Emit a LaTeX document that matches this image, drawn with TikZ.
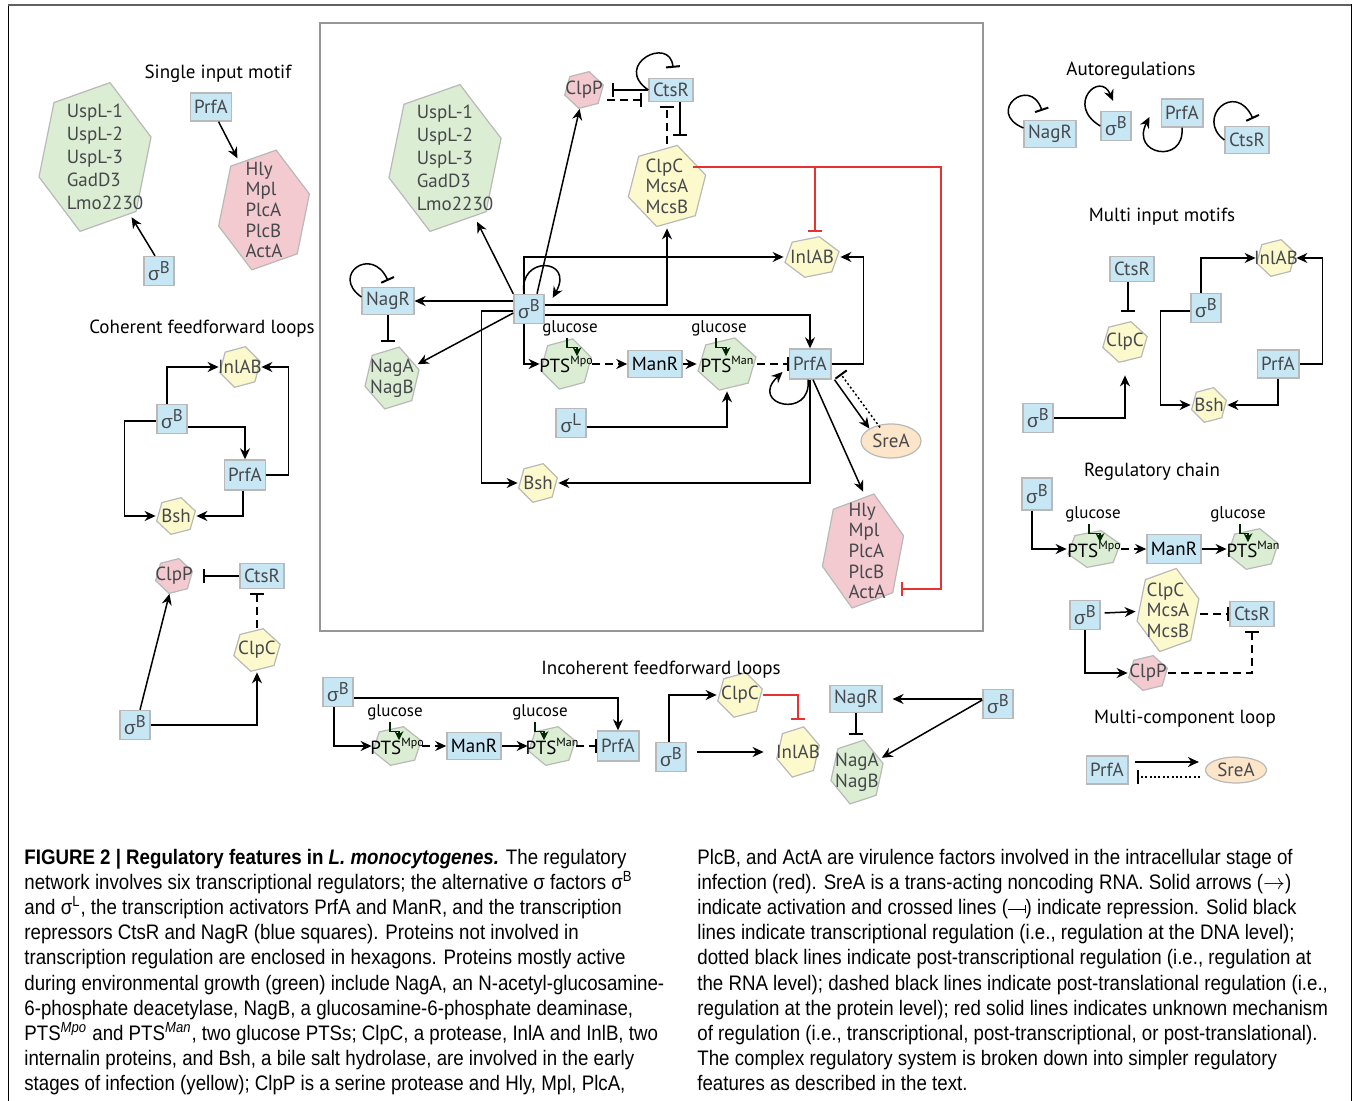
\documentclass[tikz,border=0pt]{standalone}
\usepackage{fontspec}
\setmainfont{PT Sans}
\newfontfamily\capfont[FakeStretch=0.89]{Liberation Sans}
\newfontfamily\grkfont{Liberation Sans}
\usetikzlibrary{arrows.meta,shapes.geometric,calc}

\definecolor{boxblue}{RGB}{200,231,245}
\definecolor{boxline}{RGB}{185,185,185}
\definecolor{hexgreen}{RGB}{219,237,211}
\definecolor{hexyellow}{RGB}{252,249,204}
\definecolor{hexpink}{RGB}{242,202,207}
\definecolor{rnaorange}{RGB}{252,229,200}
\definecolor{labeltext}{RGB}{70,72,76}
\definecolor{unknownred}{RGB}{232,50,50}
\definecolor{framegray}{RGB}{150,150,150}

\newcommand\lbl{\fontsize{9.5}{11.5}\selectfont}
\newcommand\lblx{\fontsize{9.5}{10.3}\selectfont}
\newcommand\sig[1]{{\grkfont σ}\raisebox{0.75ex}{\fontsize{8.5}{8.5}\selectfont #1}}
\newcommand\pts[1]{PTS\raisebox{0.85ex}{\fontsize{6}{6}\selectfont #1}}
\newcommand\actsym{$\rightarrow$}
\newcommand\repsym{\rule[0.4ex]{0.8em}{0.45pt}\rule[0.05ex]{0.45pt}{0.75ex}}

\pgfdeclarelayer{bg}
\pgfsetlayers{bg,main}

\tikzset{
  tf/.style={draw=boxline, fill=boxblue, text=labeltext, font=\lbl, line width=0.7pt,
    inner xsep=2pt, inner ysep=0pt, minimum height=13.5pt},
  sigbox/.style={minimum width=15pt, minimum height=14.5pt},
  hexa/.style={ellipse, inner sep=0pt},
  hextext/.style={font=\lbl, text=labeltext, align=left, inner sep=0pt},
  hexborder/.style={draw=boxline, line width=0.6pt},
  rna/.style={ellipse, draw=boxline, fill=rnaorange, text=labeltext, font=\lbl,
    inner sep=0pt, line width=0.6pt},
  title/.style={font=\fontsize{9.5}{11}\selectfont, text=black, inner sep=0pt, yshift=-1.5pt},
  sugar/.style={font=\fontsize{8.5}{10}\selectfont, text=black, inner sep=1pt},
  act/.style={-{Stealth[length=5.5pt,width=5pt]}, line width=0.75pt},
  rep/.style={-{Bar[width=7pt,line width=1pt]}, line width=0.75pt},
  unk/.style={rep, draw=unknownred, line width=0.7pt},
  postlat/.style={dash pattern=on 4pt off 2.5pt},
  posttx/.style={dash pattern=on 1pt off 1.2pt},
  sugararrow/.style={-{Stealth[length=4.5pt,width=4.5pt]}, line width=0.6pt, draw=black!85!green},
  captext/.style={anchor=base west, inner sep=0pt, font=\capfont\fontsize{10.5}{12.5}\selectfont},
}

% name, centre, colour, x radius, y radius, text
\newcommand\hexa[7][]{%
  \node[hexa, minimum width=#5pt, minimum height=#6pt,
    label={[hextext,#1]center:{#7}}] (#2) at (#3) {};
  \begin{pgfonlayer}{bg}
    \filldraw[hexborder, fill=#4] ($(#2.center)+({#5*cos(-15)},{#6*sin(-15)})$)
      \foreach \a in {45,105,165,225,285}{ -- ($(#2.center)+({#5*cos(\a)},{#6*sin(\a)})$)} -- cycle;
  \end{pgfonlayer}}

\begin{document}
\begin{tikzpicture}[x=0.5pt, y=-0.5pt]
\useasboundingbox (0,0) rectangle (1356,1101);
\draw[black, line width=0.5pt] (8,1101) -- (8,5) -- (1351,5) -- (1351,1101);
\draw[gray!75!black, line width=1pt] (8,5) -- (1351,5);
\draw[framegray, line width=0.9pt] (320,23) rectangle (983,631);

% whole network
\node[tf, sigbox] (sB) at (529,309) {\sig{B}};
\node[tf] (nagR) at (388,301) {NagR};
\node[tf, minimum height=11.5pt] (ctsR) at (671,90) {CtsR};
\node[tf, minimum height=15pt] (prfa) at (810,364) {PrfA};
\node[tf, text=black] (manR) at (655,364) {ManR};
\node[tf, sigbox] (sL) at (571,423) {\sig{L}};
\node[sugar] (glcA) at (570,328) {glucose};
\node[sugar] (glcB) at (719,328) {glucose};
\hexa[xshift=5pt]{uspl}{445,158}{hexgreen}{58}{76}{UspL-1\\UspL-2\\UspL-3\\GadD3\\Lmo2230}
\hexa{clpp}{584,90}{hexpink}{20}{19}{ClpP}
\hexa[font=\lblx]{clpc}{667,186}{hexyellow}{40}{42}{ClpC\\McsA\\McsB}
\hexa{inlab}{812,257}{hexyellow}{28}{21}{InlAB}
\hexa[font=\lblx]{nagab}{392,378}{hexgreen}{28}{32}{NagA\\NagB}
\hexa{ptsmpo}{566,364}{hexgreen}{26}{26}{\textcolor{black}{\pts{Mpo}}}
\hexa{ptsman}{727,364}{hexgreen}{30}{27}{\textcolor{black}{\pts{Man}}}
\hexa{bsh}{538,483}{hexyellow}{20}{20}{Bsh}
\hexa[font=\lblx, xshift=2pt]{hly}{863,551}{hexpink}{42}{59}{Hly\\Mpl\\PlcA\\PlcB\\ActA}
\node[rna, minimum width=30pt, minimum height=17pt] (srea) at (891,441) {SreA};

\draw[act] (sB.west |- nagR) -- (nagR);
\draw[rep] ([yshift=2pt]nagR.west) .. controls (330,275) and (372,245) .. ([yshift=3pt]nagR.north);
\draw[rep, shorten >=2pt] (nagR) -- (nagR |- nagab.north);
\draw[act] ([yshift=-2pt]sB.west) -- (nagab);
\draw[act] (sB.north west) -- (uspl);
\draw[act] ([xshift=4pt]sB.north) -- (clpp);
\draw[act] ([xshift=-2.5pt]sB.north) .. controls (518,255) and (575,258) .. ([xshift=4pt,yshift=-2pt]sB.north east);
\draw[act] ([xshift=-2.5pt]sB.north) |- (inlab);
\draw[act] ([yshift=2pt]sB.east) -| (clpc);
\draw[act] ([yshift=-3pt]sB.east) -| (prfa);
\draw[act] ([yshift=-1pt]sB.west) -- ++(-32,0) |- (bsh);
\draw[act] ([xshift=-2.5pt]sB.south) |- (ptsmpo);
\draw[sugararrow] ([xshift=-1.5pt]glcA.south) -- ++(0,9) -| ++(10,9);
\draw[act, postlat] (ptsmpo) -- (manR);
\draw[act] (manR) -- (ptsman);
\draw[sugararrow] ([xshift=-1.5pt]glcB.south) -- ++(0,9) -| ++(10,9);
\draw[rep, postlat] (ptsman) -- (prfa);
\draw[act] ([yshift=-2pt]sL.east) -| (ptsman);
\draw[act] ([xshift=-1pt]prfa.south) .. controls (812,420) and (748,405) .. ([xshift=-3pt,yshift=-4pt]prfa.west);
\draw[act] (prfa.south) |- (bsh);
\draw[act] (prfa.east) -- ++(32,0) |- (inlab);
\draw[act] ([xshift=1.5pt]prfa.south east) -- (srea.north west);
\draw[rep, posttx] ([xshift=-5.5pt,yshift=-2pt]srea.north) -- ([xshift=4.5pt,yshift=3pt]prfa.south east);
\draw[act] ([xshift=1.5pt]prfa.south) -- (hly.north);
\draw[rep] (ctsR.west) .. controls (612,65) and (670,35) .. ([xshift=1pt,yshift=5pt]ctsR.north);
\draw[rep] (ctsR.west) -- ([xshift=4pt]clpp.east);
\draw[rep, postlat] ([xshift=1.5pt,yshift=-5pt]clpp.east) -- ([xshift=-3pt,yshift=-5pt]ctsR.west);
\draw[rep, postlat] (clpc.north) -- ([xshift=-2pt,yshift=-2pt]ctsR.south);
\draw[rep] ([xshift=4.5pt]ctsR.south) -- ++(0,34);
\draw[unk] ([xshift=13pt,yshift=9.5pt]clpc.center) -- ++(248,0) |- ([xshift=-2pt,yshift=-19pt]hly.east);
\coordinate (redjoin) at (815,167);
\draw[unk, shorten >=2pt] (redjoin) -- (redjoin |- inlab.north);

% single input motif
\node[title] (tsim) at (218,71) {Single input motif};
\node[tf, sigbox] (sBsim) at (159,271) {\sig{B}};
\node[tf, minimum height=14pt] (prfasim) at (211,107) {PrfA};
\hexa[xshift=5pt]{uspsim}{95,157}{hexgreen}{58}{77}{UspL-1\\UspL-2\\UspL-3\\GadD3\\Lmo2230}
\hexa[font=\lblx]{hlysim}{264,210}{hexpink}{47}{62}{Hly\\Mpl\\PlcA\\PlcB\\ActA}
\draw[act] ([xshift=-2pt]sBsim.north) -- (uspsim);
\draw[act] (prfasim) -- (hlysim);

% coherent feedforward loops
\node[title] (tcoh) at (202,326) {Coherent feedforward loops};
\node[tf, sigbox] (sBcoh) at (172,419) {\sig{B}};
\node[tf, minimum height=15pt] (prfacoh) at (245,475) {PrfA};
\hexa{inlabcoh}{240,367}{hexyellow}{21}{21}{InlAB}
\hexa{bshcoh}{176,516}{hexyellow}{20}{19}{Bsh}
\draw[act] ([xshift=-2.5pt]sBcoh.north) |- (inlabcoh);
\draw[act] ([yshift=-4pt]sBcoh.east) -| (prfacoh);
\draw[act] ([yshift=-1pt]sBcoh.west) -- ++(-32,0) |- (bshcoh);
\draw[act] (prfacoh.east) -- ++(22,0) |- (inlabcoh);
\draw[act] ([xshift=-1pt]prfacoh.south) |- (bshcoh);

\hexa{clppcoh}{174,576}{hexpink}{19}{18}{ClpP}
\node[tf, minimum height=12.5pt] (ctsRcoh) at (262,576) {CtsR};
\hexa{clpccoh}{257,650}{hexyellow}{24}{22}{ClpC}
\node[tf, sigbox] (sBcohb) at (135,725) {\sig{B}};
\draw[rep] (ctsRcoh) -- ([xshift=5pt]clppcoh.east);
\draw[rep, postlat, shorten >=2pt] (clpccoh) -- (clpccoh |- ctsRcoh.south);
\draw[act] ([xshift=2.5pt]sBcohb.north) -- (clppcoh);
\draw[act] (sBcohb.east) -| (clpccoh);

% incoherent feedforward loops
\node[title] (tinc) at (661,667) {Incoherent feedforward loops};
\node[tf, sigbox] (sBinc) at (338,692) {\sig{B}};
\node[sugar] (glcinA) at (395,712) {glucose};
\node[sugar] (glcinB) at (540,712) {glucose};
\hexa{ptsmpoinc}{397,746}{hexgreen}{25}{20}{\textcolor{black}{\pts{Mpo}}}
\node[tf, text=black] (manRinc) at (474,746) {ManR};
\hexa{ptsmaninc}{552,746}{hexgreen}{24}{20}{\textcolor{black}{\pts{Man}}}
\node[tf, minimum height=15pt] (prfainc) at (618,746) {PrfA};
\draw[act] ([yshift=-3pt]sBinc.east) -| (prfainc);
\draw[act] ([xshift=-2pt]sBinc.south) |- (ptsmpoinc);
\draw[sugararrow] ([xshift=-2.5pt]glcinA.south) -- ++(0,9) -| ++(9,9);
\draw[act, postlat] (ptsmpoinc) -- (manRinc);
\draw[act] (manRinc) -- (ptsmaninc);
\draw[sugararrow] ([xshift=-2.5pt]glcinB.south) -- ++(0,9) -| ++(9,9);
\draw[rep, postlat] (ptsmaninc) -- (prfainc);

\hexa{clpcinc}{740,695}{hexyellow}{23}{23}{ClpC}
\node[tf, sigbox] (sBincb) at (671,757) {\sig{B}};
\hexa{inlabinc}{798,752}{hexyellow}{22}{26}{InlAB}
\draw[act] ([xshift=-1pt]sBincb.north) |- (clpcinc);
\draw[act, shorten >=6pt] ([xshift=5pt,yshift=2.5pt]sBincb.east) -- (inlabinc);
\draw[unk, shorten >=3pt] (clpcinc.east) -| (inlabinc.north);

\node[tf] (nagRinc) at (856,699) {NagR};
\hexa[font=\lblx]{nagabinc}{857,772}{hexgreen}{27}{33}{NagA\\NagB}
\node[tf, sigbox] (sBincc) at (998,704) {\sig{B}};
\draw[act, shorten >=5pt] (sBincc.west |- nagRinc) -- (nagRinc);
\draw[act] ([yshift=2pt]sBincc.west) -- (nagabinc);
\draw[rep, shorten >=2pt] (nagRinc) -- (nagRinc |- nagabinc.north);

% autoregulations
\node[title] (tauto) at (1131,68) {Autoregulations};
\node[tf] (nagRauto) at (1050,134) {NagR};
\node[tf, sigbox] (sBauto) at (1116,126) {\sig{B}};
\node[tf, minimum height=14pt] (prfaauto) at (1182,113) {PrfA};
\node[tf] (ctsRauto) at (1247,140) {CtsR};
\draw[rep] ([yshift=3pt]nagRauto.west) .. controls (985,112) and (1030,75) .. ([xshift=-4pt,yshift=4.5pt]nagRauto.north);
\draw[act] (sBauto.west) .. controls (1065,105) and (1100,70) .. ([xshift=-1.5pt,yshift=5pt]sBauto.north);
\draw[act] (prfaauto.south) .. controls (1185,165) and (1130,155) .. ([xshift=-5.5pt,yshift=-2pt]prfaauto.west);
\draw[rep] (ctsRauto.west) .. controls (1195,118) and (1235,80) .. ([xshift=3pt,yshift=3.5pt]ctsRauto.north);

% multi input motifs
\node[title] (tmim) at (1162,214) {Multi input motifs};
\node[tf, minimum height=12.5pt] (ctsRmim) at (1132,269) {CtsR};
\hexa{clpcmim}{1125,342}{hexyellow}{23}{21}{ClpC}
\node[tf, sigbox] (sBmim) at (1038,418) {\sig{B}};
\node[tf, sigbox] (sBmimb) at (1206,308) {\sig{B}};
\hexa{inlabmim}{1276,258}{hexyellow}{20}{19}{InlAB}
\node[tf, minimum height=14pt] (prfamim) at (1278,364) {PrfA};
\hexa{bshmim}{1209,405}{hexyellow}{18}{18}{Bsh}
\draw[rep] ([xshift=-2pt]ctsRmim.south) -- ++(0,30);
\draw[act, shorten >=6pt] (sBmim.east) -| (clpcmim);
\draw[act] ([xshift=-2.5pt]sBmimb.north) |- (inlabmim);
\draw[act] ([yshift=-1.5pt]sBmimb.west) -- ++(-30,0) |- (bshmim);
\draw[act] (prfamim.east) -- ++(23,0) |- (inlabmim);
\draw[act] (prfamim.south) |- (bshmim);

% regulatory chain
\node[title] (tch) at (1152,469) {Regulatory chain};
\node[tf, sigbox, minimum height=16pt] (sBch) at (1037,494) {\sig{B}};
\node[sugar] (glcchA) at (1093,514) {glucose};
\node[sugar] (glcchB) at (1238,514) {glucose};
\hexa{ptsmpoch}{1094,549}{hexgreen}{27}{19}{\textcolor{black}{\pts{Mpo}}}
\node[tf, text=black, minimum height=14.5pt] (manRch) at (1174,549) {ManR};
\hexa{ptsmanch}{1253,549}{hexgreen}{26}{21}{\textcolor{black}{\pts{Man}}}
\draw[act] ([xshift=-2.5pt]sBch.south) |- (ptsmpoch);
\draw[sugararrow] ([xshift=-2pt]glcchA.south) -- ++(0,9) -| ++(11,9);
\draw[act, postlat] (ptsmpoch) -- (manRch);
\draw[act] (manRch) -- (ptsmanch);
\draw[sugararrow] ([xshift=1pt]glcchB.south) -- ++(0,9) -| ++(8,9);

\hexa[font=\lblx]{clpcch}{1168,610}{hexyellow}{32}{43}{ClpC\\McsA\\McsB}
\node[tf, sigbox] (sBchb) at (1085,615) {\sig{B}};
\node[tf, minimum height=12.5pt] (ctsRch) at (1252,614) {CtsR};
\hexa{clppch}{1148,673}{hexpink}{20}{18}{ClpP}
\draw[act] ([xshift=2pt,yshift=1pt]sBchb.east) -- (clpcch);
\draw[rep, postlat] (clpcch.east |- ctsRch) -- (ctsRch);
\draw[act] (sBchb.south) |- (clppch);
\draw[rep, postlat, shorten >=2pt] (clppch.east) -| (ctsRch);

% multi-component loop
\node[title] (tmcl) at (1185,716) {Multi-component loop};
\node[tf, minimum height=14pt] (prfamcl) at (1107,770) {PrfA};
\node[rna, minimum width=30.5pt, minimum height=13pt] (sreamcl) at (1236,770) {SreA};
\draw[act, shorten <=3pt, shorten >=3pt] ([yshift=4pt]prfamcl.east) -- ([yshift=4pt]sreamcl.west);
\draw[rep, posttx, shorten <=2.5pt] ([yshift=-3.5pt]sreamcl.west) -- ([xshift=4pt,yshift=-3.5pt]prfamcl.east);

% caption
\node[captext] (capA1) at (24,864) {\textbf{FIGURE 2 | Regulatory features in \textit{L. monocytogenes.}} The regulatory};
\node[captext] (capA2) at (24,889) {network involves six transcriptional regulators; the alternative σ factors σ\textsuperscript{B}};
\node[captext] (capA3) at (24,914) {and σ\textsuperscript{L}, the transcription activators PrfA and ManR, and the transcription};
\node[captext] (capA4) at (24,939) {repressors CtsR and NagR (blue squares). Proteins not involved in};
\node[captext] (capA5) at (24,964) {transcription regulation are enclosed in hexagons. Proteins mostly active};
\node[captext] (capA6) at (24,990) {during environmental growth (green) include NagA, an N-acetyl-glucosamine-};
\node[captext] (capA7) at (24,1015) {6-phosphate deacetylase, NagB, a glucosamine-6-phosphate deaminase,};
\node[captext] (capA8) at (24,1040) {PTS\textsuperscript{\itshape Mpo} and PTS\textsuperscript{\itshape Man}, two glucose PTSs; ClpC, a protease, InlA and InlB, two};
\node[captext] (capA9) at (24,1065) {internalin proteins, and Bsh, a bile salt hydrolase, are involved in the early};
\node[captext] (capA10) at (24,1090) {stages of infection (yellow); ClpP is a serine protease and Hly, Mpl, PlcA,};
\node[captext] (capB1) at (697,864) {PlcB, and ActA are virulence factors involved in the intracellular stage of};
\node[captext] (capB2) at (697,889) {infection (red). SreA is a trans-acting noncoding RNA. Solid arrows (\actsym)};
\node[captext] (capB3) at (697,914) {indicate activation and crossed lines (\repsym) indicate repression. Solid black};
\node[captext] (capB4) at (697,939) {lines indicate transcriptional regulation (i.e., regulation at the DNA level);};
\node[captext] (capB5) at (697,964) {dotted black lines indicate post-transcriptional regulation (i.e., regulation at};
\node[captext] (capB6) at (697,990) {the RNA level); dashed black lines indicate post-translational regulation (i.e.,};
\node[captext] (capB7) at (697,1015) {regulation at the protein level); red solid lines indicates unknown mechanism};
\node[captext] (capB8) at (697,1040) {of regulation (i.e., transcriptional, post-transcriptional, or post-translational).};
\node[captext] (capB9) at (697,1065) {The complex regulatory system is broken down into simpler regulatory};
\node[captext] (capB10) at (697,1090) {features as described in the text.};
\end{tikzpicture}
\end{document}
